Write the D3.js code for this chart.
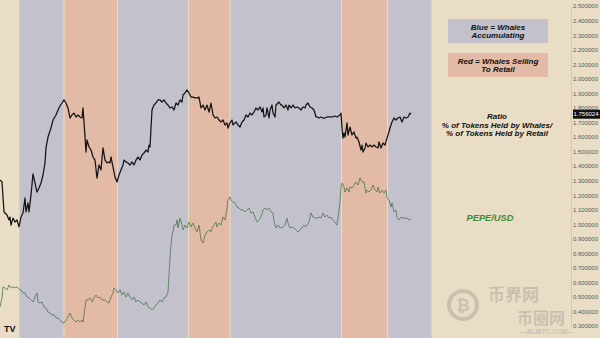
<!DOCTYPE html>
<html lang="en">
<head>
  <meta charset="UTF-8">
  <title>PEPE Whale / Retail Ratio</title>
  <script src="https://d3js.org/d3.v7.min.js"></script>
<style>
  body, html { margin: 0; background: #e9ddc5; overflow: hidden; }
  svg { display: block; font-family: 'Liberation Sans', Arial, sans-serif; }
</style>
</head>
<body>
<svg width="600" height="338"></svg>
<script>
  // phase bands (day index), blue = whales accumulating, red = whales selling to retail
  const phaseEdges = [19, 64, 117.5, 188.5, 230, 341.5, 387.5, 432];
  const phaseTypes = ["blue", "red", "blue", "red", "blue", "red", "blue"];

  // ratio: % of tokens held by whales / % held by retail  [day, value]
  const ratio = [
    [0,1.304],[2,1.290],[4,1.084],[5,1.077],[7,1.063],[9,1.029],[10,1.049],[11,0.994],[13,1.042],[15,1.015],
    [17,1.029],[19,0.981],[21,1.049],[23,1.077],[25,1.180],[26,1.084],[28,1.146],[29,1.084],[31,1.201],[33,1.345],
    [35,1.283],[37,1.221],[39,1.249],[41,1.283],[43,1.338],[45,1.421],[46,1.524],[48,1.599],[51,1.661],[53,1.716],
    [56,1.751],[58,1.785],[60,1.813],[62,1.833],[64,1.854],[66,1.833],[68,1.799],[70,1.730],[72,1.751],[74,1.764],
    [76,1.737],[78,1.751],[80,1.737],[82,1.730],[83,1.799],[84,1.703],[86,1.496],[87,1.579],[89,1.531],[91,1.510],
    [93,1.462],[95,1.441],[97,1.317],[99,1.407],[101,1.373],[103,1.524],[105,1.441],[107,1.421],[109,1.428],[110,1.421],
    [111,1.462],[113,1.393],[115,1.324],[117,1.290],[119,1.338],[121,1.373],[123,1.407],[124,1.441],[126,1.428],[128,1.421],
    [130,1.407],[132,1.428],[134,1.407],[136,1.441],[138,1.462],[140,1.441],[142,1.476],[144,1.489],[146,1.510],[148,1.496],
    [149,1.544],[150,1.531],[151,1.661],[152,1.785],[154,1.819],[156,1.833],[158,1.854],[160,1.854],[162,1.840],[164,1.854],
    [166,1.833],[168,1.819],[170,1.799],[172,1.806],[174,1.785],[176,1.833],[178,1.819],[180,1.854],[182,1.840],[183,1.888],
    [185,1.902],[187,1.923],[189,1.902],[191,1.874],[193,1.874],[195,1.868],[197,1.868],[199,1.874],[201,1.799],[203,1.819],
    [205,1.785],[207,1.819],[209,1.771],[211,1.833],[213,1.751],[215,1.730],[217,1.737],[219,1.716],[221,1.703],[223,1.716],
    [225,1.682],[227,1.696],[228,1.661],[230,1.696],[232,1.716],[233,1.682],[236,1.703],[238,1.682],[240,1.668],[242,1.703],
    [244,1.716],[246,1.751],[248,1.737],[250,1.764],[252,1.751],[254,1.771],[256,1.799],[258,1.785],[260,1.806],[262,1.771],
    [263,1.799],[264,1.737],[266,1.751],[267,1.799],[269,1.730],[270,1.785],[272,1.819],[273,1.764],[275,1.737],[276,1.819],
    [278,1.833],[279,1.840],[281,1.819],[282,1.819],[284,1.799],[286,1.819],[288,1.785],[289,1.819],[291,1.799],[293,1.819],
    [295,1.799],[297,1.806],[299,1.799],[301,1.785],[303,1.806],[305,1.799],[306,1.819],[308,1.833],[310,1.806],[312,1.799],
    [314,1.785],[316,1.737],[317,1.737],[319,1.730],[321,1.737],[323,1.730],[325,1.730],[327,1.737],[329,1.737],[331,1.737],
    [333,1.737],[335,1.744],[337,1.737],[340,1.751],[341,1.764],[342,1.661],[343,1.592],[344,1.627],[345,1.599],[347,1.696],
    [348,1.613],[350,1.668],[352,1.613],[354,1.634],[356,1.592],[357,1.599],[359,1.565],[361,1.510],[362,1.544],[363,1.496],
    [365,1.524],[366,1.558],[368,1.531],[370,1.544],[372,1.531],[374,1.544],[376,1.531],[378,1.524],[379,1.565],[381,1.524],
    [383,1.558],[385,1.544],[387,1.592],[388,1.613],[390,1.661],[392,1.703],[394,1.730],[396,1.716],[398,1.730],[400,1.737],
    [402,1.703],[404,1.737],[406,1.730],[408,1.737],[410,1.764],[411,1.756]
  ];

  // PEPE/USD, read against the same right-hand scale  [day, value]
  const pepe = [
    [0,0.431],[2,0.493],[3,0.569],[5,0.562],[7,0.548],[9,0.582],[11,0.562],[13,0.569],[15,0.562],[17,0.569],
    [19,0.554],[21,0.548],[23,0.527],[25,0.527],[27,0.499],[29,0.493],[31,0.479],[33,0.465],[35,0.499],[37,0.527],
    [38,0.465],[40,0.458],[42,0.465],[44,0.431],[46,0.424],[48,0.396],[50,0.389],[52,0.376],[54,0.376],[56,0.355],
    [58,0.355],[60,0.341],[62,0.327],[64,0.320],[66,0.341],[68,0.362],[70,0.389],[72,0.355],[74,0.341],[76,0.327],
    [78,0.341],[80,0.327],[82,0.341],[83,0.327],[85,0.424],[86,0.479],[88,0.479],[90,0.493],[92,0.465],[94,0.493],
    [96,0.513],[98,0.493],[100,0.499],[102,0.479],[105,0.479],[107,0.465],[109,0.458],[111,0.499],[113,0.527],[114,0.562],
    [116,0.548],[118,0.527],[120,0.548],[122,0.513],[124,0.534],[126,0.499],[128,0.527],[130,0.499],[132,0.479],[134,0.499],
    [136,0.465],[138,0.479],[140,0.465],[142,0.458],[144,0.444],[146,0.465],[148,0.431],[150,0.424],[152,0.410],[154,0.424],
    [156,0.444],[158,0.458],[160,0.479],[162,0.465],[164,0.493],[166,0.499],[168,0.534],[169,0.651],[170,0.768],[171,0.857],
    [172,0.926],[173,0.946],[174,0.994],[176,0.994],[177,1.029],[178,0.974],[180,1.042],[182,0.994],[183,0.960],[185,0.994],
    [187,0.974],[189,1.015],[191,0.981],[193,1.008],[195,0.974],[197,0.946],[199,0.994],[201,0.892],[203,0.871],[205,0.926],
    [207,0.946],[209,0.960],[211,0.946],[212,0.974],[214,0.994],[216,1.015],[217,0.981],[219,1.008],[221,0.994],[223,1.049],
    [225,1.029],[227,1.111],[228,1.166],[230,1.187],[231,1.166],[233,1.153],[235,1.146],[237,1.118],[239,1.111],[241,1.098],
    [243,1.098],[245,1.084],[247,1.098],[249,1.111],[251,1.077],[253,1.084],[255,1.049],[257,1.015],[259,1.029],[261,1.049],
    [263,1.098],[265,1.111],[267,1.098],[269,1.111],[271,1.084],[273,1.077],[274,1.015],[276,0.974],[278,0.994],[279,0.981],
    [281,0.974],[283,0.981],[285,0.994],[287,1.042],[288,1.008],[290,0.974],[292,0.981],[294,0.974],[296,0.960],[298,0.946],
    [300,0.960],[302,0.974],[304,0.994],[306,0.981],[307,0.994],[309,1.015],[311,1.077],[313,1.049],[315,1.042],[317,1.042],
    [319,1.049],[321,1.042],[323,1.077],[325,1.049],[327,1.063],[329,1.042],[331,1.049],[333,1.029],[335,1.015],[337,0.994],
    [338,1.049],[339,1.098],[340,1.153],[341,1.249],[342,1.283],[344,1.256],[345,1.221],[347,1.249],[349,1.221],[350,1.256],
    [352,1.249],[354,1.269],[356,1.290],[358,1.269],[360,1.318],[362,1.290],[364,1.290],[366,1.214],[367,1.235],[369,1.221],
    [371,1.235],[373,1.269],[375,1.235],[377,1.221],[378,1.256],[380,1.214],[382,1.235],[384,1.214],[386,1.235],[387,1.180],
    [389,1.166],[391,1.118],[392,1.146],[394,1.084],[396,1.098],[397,1.042],[399,1.029],[401,1.049],[403,1.042],[405,1.042],
    [407,1.042],[409,1.029],[411,1.036]
  ];

  const yTicks = d3.range(3, 26).map(d => d / 10);
  const lastRatio = 1.756024;

  const W = 600, H = 338, axisX = 571;
  const svg = d3.select("svg");

  const x = d3.scaleLinear().domain([0, axisX]).range([0, axisX]);
  const y = d3.scaleLinear().domain([0.3, 2.5]).range([326, 6]);

  const bandColor = { blue: "#c3c2cc", red: "#e3baa5" };

  // phase bands
  svg.append("g").selectAll("rect")
    .data(phaseTypes)
    .join("rect")
      .attr("x", (d, i) => x(phaseEdges[i]) + 0.5)
      .attr("y", 0)
      .attr("width", (d, i) => x(phaseEdges[i + 1]) - x(phaseEdges[i]) - 1)
      .attr("height", H)
      .attr("fill", d => bandColor[d]);

  // watermark (drawn under the axis labels)
  const wm = svg.append("g").attr("opacity", 0.28).attr("fill", "#7a7a7a");
  wm.append("circle").attr("cx", 463).attr("cy", 305).attr("r", 14)
    .attr("fill", "none").attr("stroke", "#7a7a7a").attr("stroke-width", 4);
  wm.append("text").attr("x", 463).attr("y", 311).attr("text-anchor", "middle")
    .style("font-size", "16px").style("font-weight", "bold").text("₿");
  wm.append("text").attr("x", 488).attr("y", 301)
    .style("font-family", "'Noto Sans CJK SC'").style("font-size", "17px").style("font-weight", "bold").text("币界网");
  wm.append("text").attr("x", 517).attr("y", 324)
    .style("font-family", "'Noto Sans CJK SC'").style("font-size", "16px").style("font-weight", "bold").text("币圈网");
  wm.append("text").attr("x", 547).attr("y", 334).attr("text-anchor", "middle")
    .style("font-size", "6.5px").style("font-weight", "bold").text("—ALIBTC.COM—");

  // right axis
  const axis = svg.append("g")
    .attr("transform", `translate(${axisX},0)`)
    .call(d3.axisRight(y).tickValues(yTicks).tickSize(0).tickFormat(d3.format(".6f")));
  axis.select(".domain").attr("stroke", "#d2c7b2");
  axis.selectAll("text")
    .attr("x", 27)
    .attr("text-anchor", "end")
    .attr("fill", "#5a5a5a")
    .style("font-size", "6px")
    .style("font-family", "'Liberation Sans', Arial, sans-serif");

  // lines
  const line = d3.line().x(d => x(d[0])).y(d => y(d[1]));

  svg.append("path")
    .datum(pepe)
    .attr("d", line)
    .attr("fill", "none")
    .attr("stroke", "#3e6e42")
    .attr("stroke-opacity", 0.8)
    .attr("stroke-width", 0.9);

  svg.append("path")
    .datum(ratio)
    .attr("d", line)
    .attr("fill", "none")
    .attr("stroke", "#141414")
    .attr("stroke-width", 1.25)
    .attr("stroke-linejoin", "round");

  // last value tag
  const tag = svg.append("g").attr("transform", `translate(${axisX + 2},${y(lastRatio)})`);
  tag.append("rect").attr("x", 0).attr("y", -4.5).attr("width", 27).attr("height", 9).attr("fill", "#111");
  tag.append("text").attr("x", 25.5).attr("y", 2).attr("text-anchor", "end")
    .attr("fill", "#fff").style("font-size", "6px").text(d3.format(".6f")(lastRatio));

  // legend boxes
  const legend = [
    { color: bandColor.blue, top: 19, lines: ["Blue = Whales", "Accumulating"] },
    { color: bandColor.red,  top: 53, lines: ["Red = Whales Selling", "To Retail"] }
  ];
  legend.forEach(l => {
    svg.append("rect").attr("x", 448).attr("y", l.top).attr("width", 100).attr("height", 24).attr("fill", l.color);
    l.lines.forEach((t, i) => {
      svg.append("text").attr("x", 498).attr("y", l.top + 10.5 + i * 8)
        .attr("text-anchor", "middle").style("font-size", "8px")
        .style("font-weight", "bold").style("font-style", "italic").attr("fill", "#111").text(t);
    });
  });

  ["Ratio", "% of Tokens Held by Whales/", "% of Tokens Held by Retail"].forEach((t, i) => {
    svg.append("text").attr("x", 497).attr("y", 119 + i * 8.5)
      .attr("text-anchor", "middle").style("font-size", "8px")
      .style("font-weight", "bold").style("font-style", "italic").attr("fill", "#111").text(t);
  });

  svg.append("text").attr("x", 490).attr("y", 221).attr("text-anchor", "middle")
    .style("font-size", "9.3px").style("font-weight", "bold").style("font-style", "italic")
    .attr("fill", "#3d8a2f").text("PEPE/USD");

  // TradingView mark
  svg.append("text").attr("x", 4).attr("y", 332).style("font-size", "9px")
    .style("font-weight", "bold").attr("fill", "#111").text("TV");
</script>
</body>
</html>
